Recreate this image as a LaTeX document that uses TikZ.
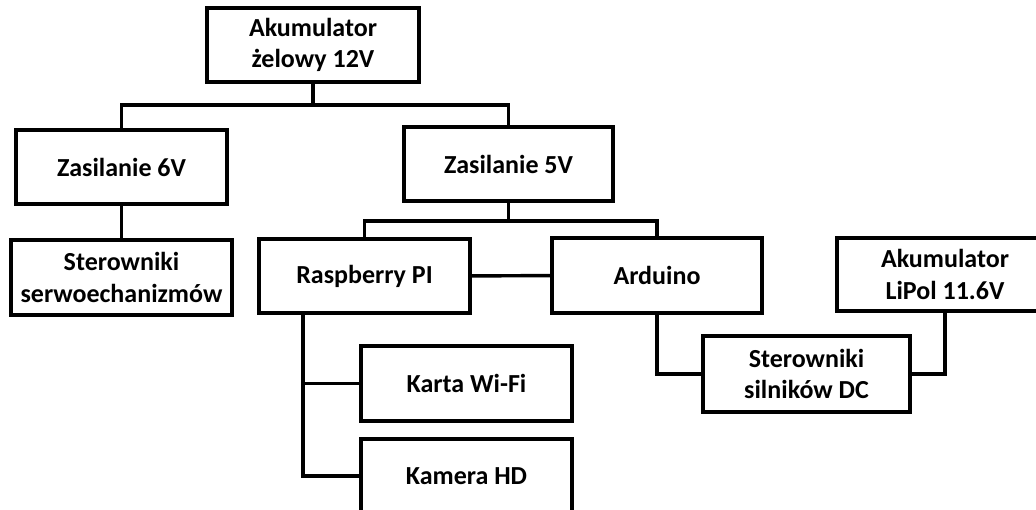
\documentclass[tikz,border=0pt]{standalone}
\usepackage{fontspec}
\setmainfont{Carlito}
\usepackage{tikz}
\usetikzlibrary{positioning}

\begin{document}
\begin{tikzpicture}[x=0.75pt,y=-0.75pt,line width=2.6pt,
	blok/.style={rectangle,draw,line width=3pt,align=center,inner sep=0pt,
		minimum height=56pt,font=\bfseries\fontsize{19.5}{23.5}\selectfont}]
	
	\useasboundingbox[fill=white] (0,0) rectangle (1036,510);
	
	\node[blok, minimum width=159pt] (akuzel) at (313,45) {Akumulator\\żelowy 12V};
	\node[blok, minimum width=158pt] (zas6) at (121.5,167) {Zasilanie 6V};
	\node[blok, minimum width=166pt] (serwo) at (121.5,277.5) {Sterowniki\\serwoechanizmów};
	\node[blok, minimum width=157pt, minimum height=55.5pt] (zas5) at (508.5,164) {Zasilanie 5V};
	\node[blok, minimum width=158pt] (rpi) at (364.5,276) {Raspberry PI};
	\node[blok, minimum width=157.5pt] (ard) at (657,275.5) {Arduino};
	\node[blok, minimum width=162pt, minimum height=55pt] (lipol) at (945,274.5) {Akumulator\\LiPol 11.6V};
	\node[blok, minimum width=155pt, minimum height=57pt] (dc) at (806.5,374) {Sterowniki\\silników DC};
	\node[blok, minimum width=158pt] (wifi) at (466.5,383.5) {Karta Wi-Fi};
	\node[blok, minimum width=158pt] (kam) at (466.5,476) {Kamera HD};
	
	% rozgalezienia
	\coordinate (b1) at (313,105);
	\coordinate (b2) at (508.5,221);
	\coordinate (bus) at (303,0);
	
	\draw (akuzel.south) -- (b1);
	\draw (zas6.north) |- (b1) -| (zas5.north);
	\draw (zas6) -- (serwo);
	\draw (zas5.south) -- (b2);
	\draw (rpi.north) |- (b2) -| (ard.north);
	\draw (rpi) -- (ard);
	\draw (rpi.south -| bus) |- (wifi.west);
	\draw (rpi.south -| bus) |- (kam.west);
	\draw (ard.south) |- (dc.west);
	\draw (lipol.south) |- (dc.east);
\end{tikzpicture}
\end{document}
